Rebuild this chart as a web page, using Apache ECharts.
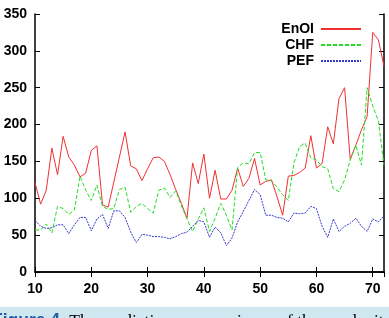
<!DOCTYPE html>
<html>
<head>
<meta charset="utf-8">
<script src="https://cdn.jsdelivr.net/npm/echarts@6/dist/echarts.min.js"></script>
<style>
  html, body { margin:0; padding:0; background:#fff; }
  #chart { width:389px; height:318px; }
</style>
</head>
<body>
<div id="chart"></div>
<script>
const steps = [10,11,12,13,14,15,16,17,18,19,20,21,22,23,24,25,26,27,28,29,30,31,32,33,34,35,36,37,38,39,40,41,
  42,43,44,45,46,47,48,49,50,51,52,53,54,55,56,57,58,59,60,61,62,63,64,65,66,67,68,69,70,71,72];
const enoi = [121,92,111,168,132,184,156,145,129,134,165,171,91,88,122,156,190,144,140,124,140,155,156,150,132,112,93,73,
  148,120,160,100,138,99,99,111,141,116,127,154,118,123,125,102,77,130,131,135,141,185,141,147,197,174,235,250,153,172,193,211,325,315,279];
const chf = [57,57,65,53,89,86,78,84,130,111,97,118,89,85,86,112,115,81,89,93,86,80,111,114,101,110,90,72,
  55,72,87,55,73,93,77,57,142,148,147,162,162,125,124,115,105,97,148,170,175,155,152,143,140,113,109,125,152,172,145,250,225,205,145];
const pef = [70,62,59,60,64,64,52,64,74,74,56,72,78,59,83,83,74,54,40,51,50,48,48,47,45,48,52,54,
  62,70,68,47,61,53,36,46,68,82,97,112,105,77,77,74,73,68,80,79,80,89,86,62,47,72,55,62,66,73,62,55,72,68,76];
const xTicks = [10, 72, 10];   // min, max, interval
const yTicks = [0, 350, 50];

const pts = arr => arr.map((v, i) => [steps[i], v]);
const lbl = { color:'#000', fontSize:14, fontWeight:'bold', fontFamily:'Liberation Sans, Arial, sans-serif' };

const chart = echarts.init(document.getElementById('chart'));
chart.setOption({
  animation:false,
  grid:{ left:35, right:5, top:14, bottom:46 },
  legend:{
    orient:'vertical', right:22, top:17, align:'right',
    itemWidth:40, itemHeight:10, itemGap:2,
    itemStyle:{ opacity:0 },
    textStyle:{ color:'#000', fontSize:14, fontWeight:'bold', fontFamily:'Liberation Sans, Arial, sans-serif', padding:[0,2,0,0] },
    data:['EnOI','CHF','PEF']
  },
  xAxis:[{
    type:'value', min:xTicks[0], max:xTicks[1], interval:xTicks[2],
    axisLine:{ lineStyle:{ color:'#000', width:1.5 } },
    axisTick:{ inside:true, length:5, lineStyle:{ color:'#000' } },
    axisLabel:{ ...lbl, margin:10, showMaxLabel:false },
    splitLine:{ show:false }
  },{
    type:'value', position:'top', min:xTicks[0], max:xTicks[1], interval:xTicks[2],
    axisLine:{ show:true, lineStyle:{ color:'#000', width:1.5 } },
    axisTick:{ inside:true, length:5, lineStyle:{ color:'#000' } },
    axisLabel:{ show:false }, splitLine:{ show:false }
  }],
  yAxis:[{
    type:'value', min:yTicks[0], max:yTicks[1], interval:yTicks[2],
    axisLine:{ show:true, lineStyle:{ color:'#000', width:1.5 } },
    axisTick:{ show:true, inside:true, length:5, lineStyle:{ color:'#000' } },
    axisLabel:{ ...lbl, margin:8 },
    splitLine:{ show:false }
  },{
    type:'value', position:'right', min:yTicks[0], max:yTicks[1], interval:yTicks[2],
    axisLine:{ show:true, lineStyle:{ color:'#000', width:1.5 } },
    axisTick:{ show:true, inside:true, length:5, lineStyle:{ color:'#000' } },
    axisLabel:{ show:false }, splitLine:{ show:false }
  }],
  series:[
    { name:'EnOI', type:'line', data:pts(enoi), symbol:'none', color:'#f03030',
      lineStyle:{ width:1, color:'#f03030' } },
    { name:'CHF', type:'line', data:pts(chf), symbol:'none', color:'#22dd22',
      lineStyle:{ width:1, color:'#22dd22', type:[4,2] } },
    { name:'PEF', type:'line', data:pts(pef), symbol:'none', color:'#3535d0',
      lineStyle:{ width:1, color:'#3535d0', type:[2,1] } }
  ],
  graphic:[
    { type:'rect', shape:{ x:0, y:307, width:389, height:11 }, style:{ fill:'#cfe7f1' }, silent:true },
    { type:'text', x:-8, y:312, silent:true, style:{
        text:'{b|Figure 4.} The prediction error variance of the x velocity',
        fontSize:17.5, fontFamily:'Liberation Serif, DejaVu Serif, serif', fill:'#000', verticalAlign:'top',
        rich:{ b:{ fontSize:17.5, fontWeight:'bold', fill:'#1d5fa0', fontFamily:'Liberation Sans, Arial, sans-serif' } }
    } }
  ]
});
window.addEventListener('resize', () => chart.resize());
</script>
</body>
</html>
